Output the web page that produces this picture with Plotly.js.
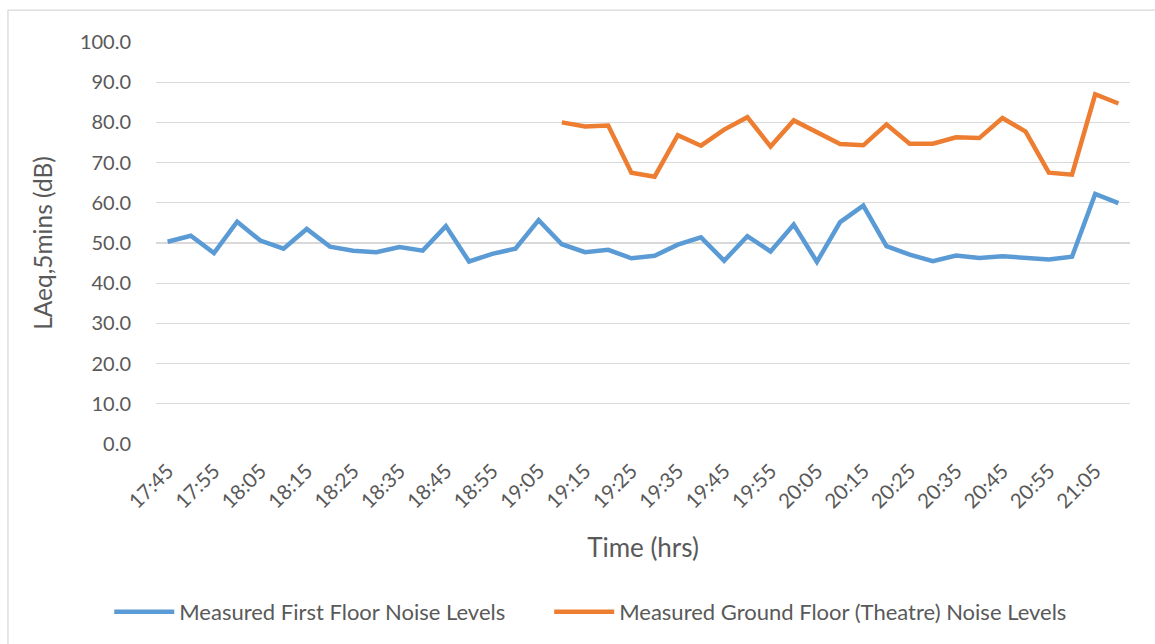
<!DOCTYPE html>
<html>
<head>
<meta charset="utf-8">
<script src="https://cdn.plot.ly/plotly-3.0.1.min.js"></script>
<style>
html, body { margin: 0; padding: 0; background: #ffffff; }
#chart { width: 1155px; height: 644px; }
</style>
</head>
<body>
<div id="chart"></div>
<script>
// Time categories (5-minute intervals)
const times = [
  "17:45","17:50","17:55","18:00","18:05","18:10","18:15","18:20","18:25","18:30",
  "18:35","18:40","18:45","18:50","18:55","19:00","19:05","19:10","19:15","19:20",
  "19:25","19:30","19:35","19:40","19:45","19:50","19:55","20:00","20:05","20:10",
  "20:15","20:20","20:25","20:30","20:35","20:40","20:45","20:50","20:55","21:00",
  "21:05","21:10"
];

// Measured First Floor Noise Levels (dB)
const firstFloor = [
  50.3, 51.8, 47.5, 55.3, 50.6, 48.6, 53.5, 49.1, 48.1, 47.7,
  49.0, 48.1, 54.2, 45.4, 47.3, 48.6, 55.7, 49.7, 47.7, 48.3,
  46.2, 46.8, 49.6, 51.4, 45.6, 51.7, 47.9, 54.6, 45.3, 55.2,
  59.3, 49.2, 47.1, 45.5, 46.9, 46.3, 46.7, 46.3, 45.9, 46.6,
  62.2, 59.9
];

// Measured Ground Floor (Theatre) Noise Levels (dB)
const groundFloor = [
  null, null, null, null, null, null, null, null, null, null,
  null, null, null, null, null, null, null, 80.0, 79.0, 79.2,
  67.5, 66.5, 76.8, 74.2, 78.2, 81.3, 74.0, 80.5, 77.7, 74.6,
  74.3, 79.5, 74.7, 74.7, 76.3, 76.1, 81.1, 77.7, 67.5, 67.0,
  87.0, 84.7
];

// Tick labels shown on the x axis (every other category)
const xTickLabels = [
  "17:45","17:55","18:05","18:15","18:25","18:35","18:45","18:55","19:05","19:15",
  "19:25","19:35","19:45","19:55","20:05","20:15","20:25","20:35","20:45","20:55","21:05"
];

const yTicks = [0, 10, 20, 30, 40, 50, 60, 70, 80, 90, 100];

const FONT = "Lato, 'Open Sans', 'DejaVu Sans', sans-serif";
const TXT = "#595959";
const GRID = "#d9d9d9";

const traces = [
  {
    x: times, y: firstFloor, type: "scatter", mode: "lines",
    name: "Measured First Floor Noise Levels",
    line: { color: "#5B9BD5", width: 4.5, shape: "linear" },
    legend: "legend"
  },
  {
    x: times, y: groundFloor, type: "scatter", mode: "lines",
    name: "Measured Ground Floor (Theatre) Noise Levels",
    line: { color: "#ED7D31", width: 4.5, shape: "linear" },
    connectgaps: false,
    legend: "legend2"
  }
];

const legendBase = {
  orientation: "h", xanchor: "left", y: -0.414, yanchor: "middle",
  font: { family: FONT, color: TXT, size: 22 },
  itemwidth: 60, bgcolor: "rgba(0,0,0,0)"
};

const layout = {
  width: 1155, height: 644,
  margin: { l: 156, r: 25, t: 42, b: 199 },
  paper_bgcolor: "#ffffff", plot_bgcolor: "#ffffff",
  font: { family: FONT, color: TXT, size: 20 },
  showlegend: true,
  legend: Object.assign({}, legendBase, { x: -0.048 }),
  legend2: Object.assign({}, legendBase, { x: 0.4037 }),
  xaxis: {
    type: "category",
    categoryorder: "array", categoryarray: times,
    range: [-0.5, times.length - 0.5],
    tickmode: "array", tickvals: xTickLabels, ticktext: xTickLabels,
    tickangle: -45, tickfont: { family: FONT, color: TXT, size: 20.5 },
    showgrid: false, zeroline: false, showline: false,
    ticks: "outside", ticklen: 6, tickcolor: "rgba(0,0,0,0)",
    automargin: false,
    title: { text: "Time (hrs)", font: { family: FONT, color: TXT, size: 26 }, standoff: 27 }
  },
  yaxis: {
    range: [0, 100], tickmode: "array", tickvals: yTicks,
    tickformat: ".1f",
    tickfont: { family: FONT, color: TXT, size: 20 },
    showgrid: true, gridcolor: GRID, gridwidth: 1.3,
    zeroline: false, showline: false,
    ticks: "outside", ticklen: 20, tickcolor: "rgba(0,0,0,0)",
    automargin: false,
    title: { text: "LAeq,5mins (dB)", font: { family: FONT, color: TXT, size: 24.5 }, standoff: 20 }
  },
  shapes: [
    { type: "line", xref: "paper", yref: "paper", x0: -0.152, x1: 1.1, y0: 1.0794, y1: 1.0794,
      line: { color: GRID, width: 1.3 } },
    { type: "line", xref: "paper", yref: "paper", x0: -0.152, x1: -0.152, y0: 1.0794, y1: -0.6,
      line: { color: GRID, width: 1.3 } }
  ]
};

Plotly.newPlot("chart", traces, layout, { displayModeBar: false, staticPlot: true });
</script>
</body>
</html>
